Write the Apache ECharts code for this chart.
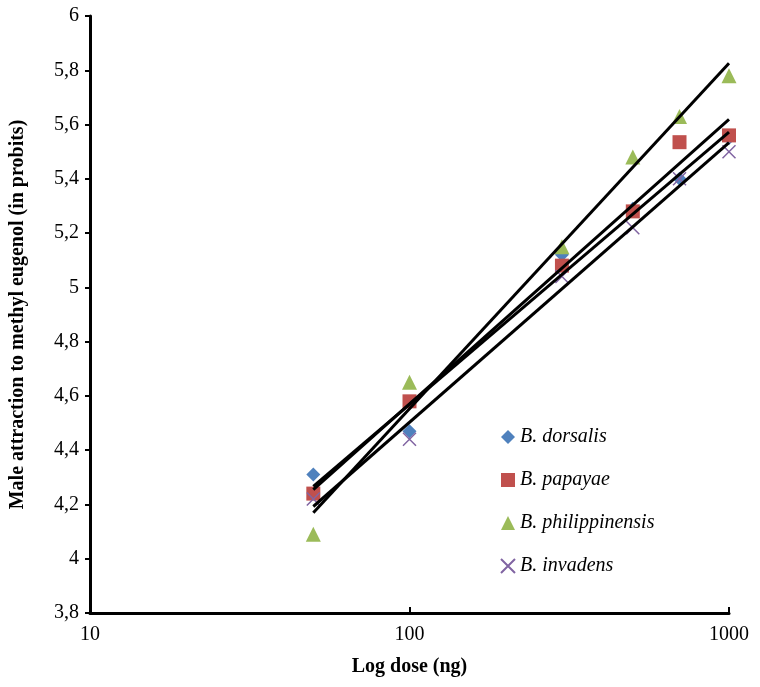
<!DOCTYPE html>
<html><head><meta charset="utf-8">
<script src="https://cdn.jsdelivr.net/npm/echarts@6/dist/echarts.min.js"></script>
<style>html,body{margin:0;padding:0;background:#fff}#c{width:760px;height:687px}</style>
</head><body><div id="c"></div>
<script>
const doses = [50, 100, 300, 500, 700, 1000];
const dorsalis = [4.31, 4.47, 5.12, 5.29, 5.40, 5.55];
const papayae = [4.24, 4.58, 5.08, 5.28, 5.535, 5.56];
const philippinensis = [4.09, 4.65, 5.15, 5.48, 5.63, 5.78];
const invadens = [4.22, 4.44, 5.04, 5.22, 5.40, 5.50];
const yTicks = [3.8, 4, 4.2, 4.4, 4.6, 4.8, 5, 5.2, 5.4, 5.6, 5.8, 6];
const xTicks = [10, 100, 1000];
const names = ['B. dorsalis', 'B. papayae', 'B. philippinensis', 'B. invadens'];

function trend(ys) {
  const lx = doses.map(d => Math.log10(d));
  const n = lx.length;
  const mx = lx.reduce((a, b) => a + b, 0) / n;
  const my = ys.reduce((a, b) => a + b, 0) / n;
  let sxy = 0, sxx = 0;
  for (let i = 0; i < n; i++) { sxy += (lx[i] - mx) * (ys[i] - my); sxx += (lx[i] - mx) ** 2; }
  const b = sxy / sxx, a = my - b * mx;
  const x0 = doses[0], x1 = doses[n - 1];
  return [[x0, a + b * Math.log10(x0)], [x1, a + b * Math.log10(x1)]];
}
const pts = ys => doses.map((d, i) => [d, ys[i]]);
const font = 'Liberation Serif';
const crossPath = 'path://M0,0L10,10M10,0L0,10';

const chart = echarts.init(document.getElementById('c'), null, {renderer: 'canvas'});
const series = [
  {name: names[0], type: 'scatter', data: pts(dorsalis), symbol: 'diamond', symbolSize: 14, itemStyle: {color: '#4F81BD', opacity: 1}, z: 3},
  {name: names[1], type: 'scatter', data: pts(papayae), symbol: 'rect', symbolSize: 14, itemStyle: {color: '#C0504D', opacity: 1}, z: 3},
  {name: names[2], type: 'scatter', data: pts(philippinensis), symbol: 'triangle', symbolSize: 15, itemStyle: {color: '#9BBB59', opacity: 1}, z: 3},
  {name: names[3], type: 'scatter', data: pts(invadens), symbol: crossPath, symbolSize: 13, itemStyle: {color: 'rgba(0,0,0,0)', borderColor: '#8064A2', borderWidth: 1.5, opacity: 1}, z: 3}
];
[dorsalis, papayae, philippinensis, invadens].forEach((ys, i) => {
  series.push({name: 'trend' + i, type: 'line', data: trend(ys), symbol: 'none', lineStyle: {color: '#000', width: 3}, z: 4, silent: true});
});

chart.setOption({
  animation: false,
  backgroundColor: '#fff',
  grid: {left: 88, right: 31, top: 16, bottom: 74, containLabel: false},
  legend: {
    data: names, orient: 'vertical', left: 495, top: 422, itemWidth: 14, itemHeight: 14, itemGap: 23,
    textStyle: {fontFamily: font, fontStyle: 'italic', fontSize: 20, color: '#000', lineHeight: 20}
  },
  xAxis: {
    type: 'log', logBase: 10, min: 10, max: 1000,
    name: 'Log dose (ng)', nameLocation: 'middle', nameGap: 44,
    nameTextStyle: {fontFamily: font, fontWeight: 'bold', fontSize: 20, color: '#000'},
    axisLine: {lineStyle: {color: '#000', width: 3}},
    axisTick: {show: true, inside: true, length: 6, lineStyle: {color: '#000', width: 2}},
    minorTick: {show: false},
    axisLabel: {fontFamily: font, fontSize: 20, color: '#000', margin: 12, formatter: v => String(Math.round(v))},
    splitLine: {show: false}
  },
  yAxis: {
    type: 'value', min: 3.8, max: 6, interval: 0.2,
    name: 'Male attraction to methyl eugenol (in probits)', nameLocation: 'middle', nameGap: 62,
    nameTextStyle: {fontFamily: font, fontWeight: 'bold', fontSize: 20, color: '#000'},
    axisLine: {show: true, lineStyle: {color: '#000', width: 3}},
    axisTick: {show: true, inside: false, length: 5, lineStyle: {color: '#000', width: 2}},
    axisLabel: {fontFamily: font, fontSize: 20, color: '#000', margin: 11,
      formatter: v => String(Math.round(v * 10) / 10).replace('.', ',')},
    splitLine: {show: false}
  },
  series: series
});
</script></body></html>
